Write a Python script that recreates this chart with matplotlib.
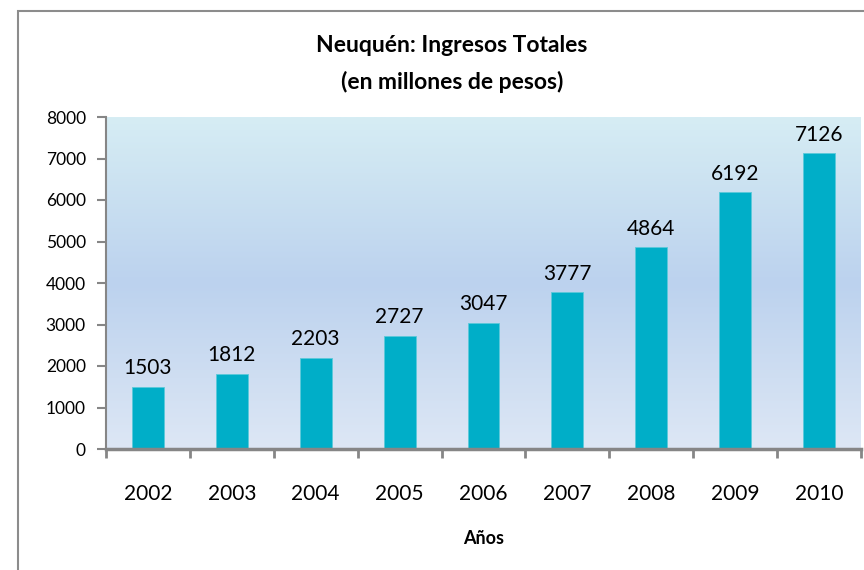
import numpy as np
import matplotlib.pyplot as plt
from matplotlib.colors import LinearSegmentedColormap
from matplotlib.patches import Rectangle

plt.rcParams['font.family'] = ['Lato', 'DejaVu Sans']

# datos
anios = ['2002', '2003', '2004', '2005', '2006', '2007', '2008', '2009', '2010']
ingresos = [1503, 1812, 2203, 2727, 3047, 3777, 4864, 6192, 7126]

fig = plt.figure(figsize=(8.64, 5.70), dpi=100)
ax = fig.add_axes([106/864, 1-449/570, (861-106)/864, (449-117)/570])

# marco del grafico (se sale por la derecha y abajo)
fig.patches.append(Rectangle((18/864, -0.05), 1.2, 1-11/570+0.05, transform=fig.transFigure,
                             fill=False, edgecolor='#8c8c8c', linewidth=1.5, clip_on=False))

# fondo degradado
cmap = LinearSegmentedColormap.from_list('fondo', [(0, '#dde7f5'), (0.5, '#bcd2ee'), (1, '#d6edf4')])
grad = np.linspace(0, 1, 256).reshape(-1, 1)
ax.imshow(grad, cmap=cmap, aspect='auto', origin='lower', extent=[-0.5, 8.5, 0, 8000], zorder=0)

x = np.arange(len(anios))
barras = ax.bar(x, ingresos, width=0.38, color='#00aec8', edgecolor='#5cc9da', linewidth=0.6, zorder=2)
for xi, v in zip(x, ingresos):
    ax.annotate(str(v), (xi, v), xytext=(0, 6), textcoords='offset points',
                ha='center', va='bottom', fontsize=15, color='black')

ax.set_xlim(-0.5, 8.5)
ax.set_ylim(0, 8000)
ax.set_yticks(range(0, 8001, 1000))
ax.set_xticks(np.arange(-0.5, 9, 1))
ax.set_xticklabels([])
ax.set_xticks(x, minor=True)
ax.set_xticklabels(anios, minor=True, fontsize=15)
ax.tick_params(axis='x', which='minor', length=0, pad=25)
ax.tick_params(axis='x', which='major', length=6.5, width=2, color='#868686')
ax.tick_params(axis='y', length=6.5, width=1.5, color='#868686', labelsize=12.5, pad=8)

for s in ['top', 'right']:
    ax.spines[s].set_visible(False)
ax.spines['left'].set_color('#868686')
ax.spines['left'].set_linewidth(1.5)
ax.spines['bottom'].set_color('#868686')
ax.spines['bottom'].set_linewidth(2.5)

ax.set_xlabel('Años', fontsize=13, fontweight='bold', labelpad=19)
fig.text(452/864, 1-45/570, 'Neuquén: Ingresos Totales', ha='center', va='center',
         fontsize=16.5, fontweight='bold')
fig.text(452/864, 1-82/570, '(en millones de pesos)', ha='center', va='center',
         fontsize=16.5, fontweight='bold')

fig.savefig('out.png', dpi=100, facecolor='white')
